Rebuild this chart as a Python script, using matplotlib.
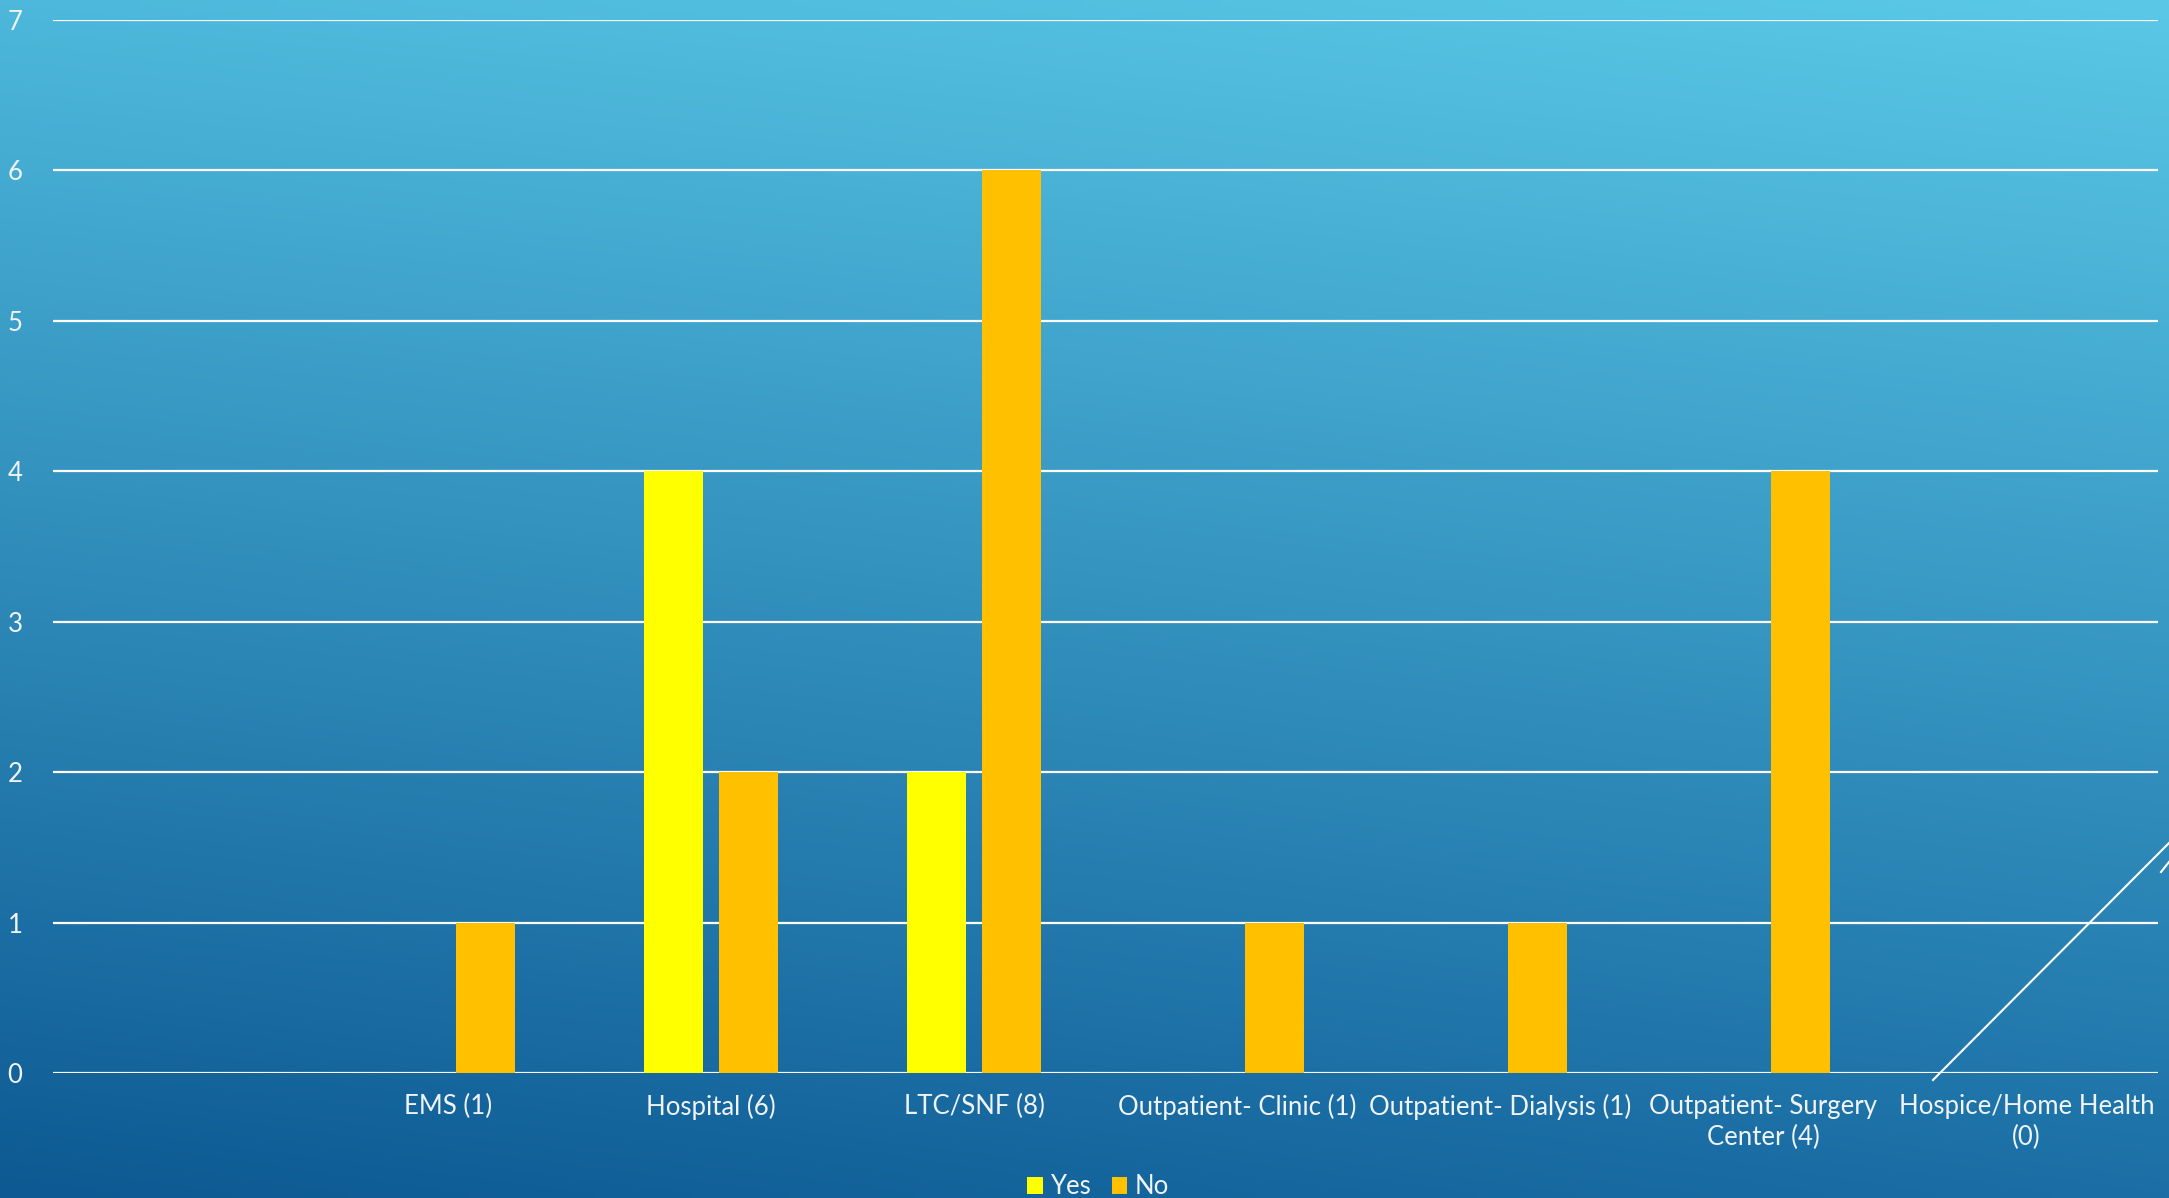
import numpy as np
import matplotlib
matplotlib.use("Agg")
import matplotlib.pyplot as plt
from matplotlib.patches import Patch
from matplotlib.lines import Line2D

plt.rcParams['font.family'] = ['Lato', 'DejaVu Sans']

categories = ["", "EMS (1)", "Hospital (6)", "LTC/SNF (8)", "Outpatient- Clinic (1)",
              "Outpatient- Dialysis (1)", "Outpatient- Surgery\nCenter (4)",
              "Hospice/Home Health\n(0)"]
yes_values = [0, 0, 4, 2, 0, 0, 0, 0]
no_values = [0, 1, 2, 6, 1, 1, 4, 0]
series_names = ["Yes", "No"]
yticks = [0, 1, 2, 3, 4, 5, 6, 7]

W, H = 2169, 1198
fig = plt.figure(figsize=(W / 100, H / 100), dpi=100)

# background gradient (bilinear between corner colours)
def hex2rgb(h):
    h = h.lstrip('#')
    return np.array([int(h[i:i + 2], 16) for i in (0, 2, 4)]) / 255.0

tl, tr, bl, br = (hex2rgb(c) for c in ("#4DB8DB", "#5AC8E6", "#0D5993", "#1B6FA6"))
nx, ny = 200, 120
xs = np.linspace(0, 1, nx)[None, :, None]
ys = np.linspace(0, 1, ny)[:, None, None]  # 0 = top
top = tl * (1 - xs) + tr * xs
bot = bl * (1 - xs) + br * xs
grad = top * (1 - ys) + bot * ys
bg = fig.add_axes([0, 0, 1, 1], zorder=-10)
bg.imshow(grad, aspect='auto', extent=[0, 1, 0, 1], interpolation='bilinear')
bg.set_axis_off()

ax = fig.add_axes([53 / W, 125 / H, (2158 - 53) / W, (1073 - 20) / H])
ax.patch.set_alpha(0)

x = np.arange(len(categories))
bw = 0.224
off = 0.143
ax.bar(x - off, yes_values, width=bw, color="#FFFF00", zorder=3, label=series_names[0])
ax.bar(x + off, no_values, width=bw, color="#FFC000", zorder=3, label=series_names[1])

txt_color = "#F0F4F8"
fs = 18.5
ax.set_xlim(-0.5, len(categories) - 0.5)
ax.set_ylim(0, 7)
ax.set_yticks(yticks)
ax.set_xticks(x)
ax.set_xticklabels(categories, fontsize=fs, color=txt_color, linespacing=1.3)
ax.set_yticklabels([str(v) for v in yticks], fontsize=fs, color=txt_color)
ax.tick_params(axis='both', length=0)
ax.tick_params(axis='x', pad=15)
ax.tick_params(axis='y', pad=22)
for s in ax.spines.values():
    s.set_visible(False)
ax.yaxis.grid(True, color="white", linewidth=1.6, zorder=1)
ax.set_axisbelow(True)

handles = [Patch(facecolor="#FFFF00"), Patch(facecolor="#FFC000")]
fig.legend(handles, series_names, loc='center', bbox_to_anchor=(1098 / W, 11 / H),
           ncol=2, frameon=False, fontsize=fs, labelcolor=txt_color,
           handlelength=0.6, handleheight=0.6, handletextpad=0.3, columnspacing=0.8,
           borderpad=0)

# slide decoration lines
fig.add_artist(Line2D([1933 / W, 1.0], [(H - 1080) / H, (H - 843) / H],
                      transform=fig.transFigure, color="white", linewidth=1.5))
fig.add_artist(Line2D([2161 / W, 1.0], [(H - 872) / H, (H - 862) / H],
                      transform=fig.transFigure, color="white", linewidth=1.5))

fig.savefig("out.png", dpi=100)
